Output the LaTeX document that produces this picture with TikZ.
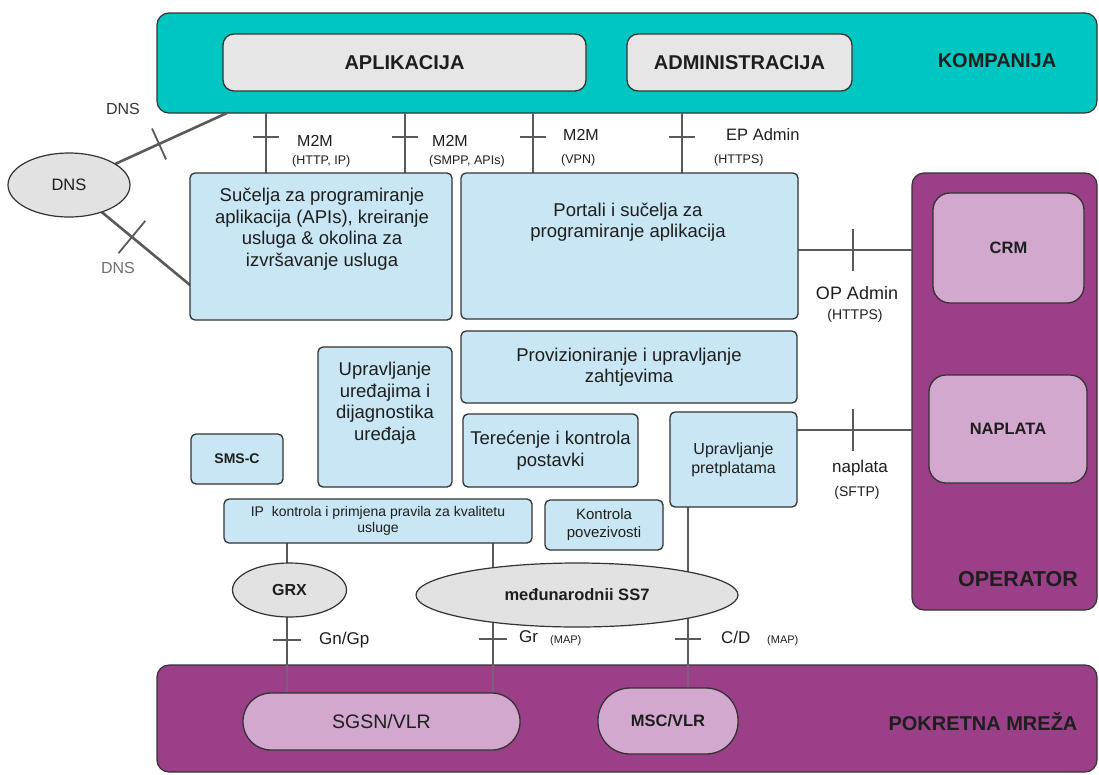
\documentclass[tikz,border=0pt]{standalone}
\usepackage{fontspec}
\setmainfont{Liberation Sans}
\usetikzlibrary{calc,shapes.geometric}
\pgfdeclarelayer{bg}
\pgfdeclarelayer{panels}
\pgfdeclarelayer{wires}
\pgfsetlayers{bg,panels,wires,main}
\definecolor{tealc}{HTML}{00C6C1}
\definecolor{purp}{HTML}{9B3F88}
\definecolor{lila}{HTML}{D2A8CE}
\definecolor{boxblue}{HTML}{C8E6F3}
\definecolor{boxgrey}{HTML}{E6E6E6}
\definecolor{ovalgrey}{HTML}{E2E2E2}
\definecolor{edge}{HTML}{333333}
\definecolor{wirec}{HTML}{5A5A5A}
\definecolor{wireband}{HTML}{7E5C7A}
\definecolor{ink}{HTML}{1E1E1E}
\definecolor{inkgrey}{HTML}{707070}
\newcommand{\fsz}[2]{\fontsize{#1}{#2}\selectfont}
\begin{document}
\begin{tikzpicture}[x=1pt,y=-1pt,
  every node/.style={text=ink},
  panel/.style={draw=edge, line width=1.2pt, rounded corners=12pt, inner sep=0pt, outer sep=0pt, anchor=north west},
  sbox/.style={draw=edge, line width=1.3pt, rounded corners=5pt, inner sep=1pt, outer sep=0pt, anchor=north west, align=center},
  bluebox/.style={sbox, fill=boxblue, font=\fsz{18.5}{21.5}},
  greybox/.style={sbox, fill=boxgrey, rounded corners=11pt, font=\bfseries\fsz{20}{24}},
  lilabox/.style={sbox, fill=lila, rounded corners=17pt, font=\bfseries\fsz{16.5}{20}},
  pill/.style={sbox, fill=lila},
  oval/.style={ellipse, draw=edge, line width=1.2pt, fill=ovalgrey, inner sep=0pt, outer sep=0pt},
  boxtxt/.style={align=center, inner sep=0pt, font=\fsz{18.5}{21.5}},
  headtxt/.style={inner sep=0pt, font=\bfseries\fsz{20}{24}},
  wire/.style={draw=wirec, line width=2.6pt},
  wireb/.style={draw=wireband, line width=2.6pt},
  tickl/.style={draw=wirec, line width=1.8pt},
  lbl/.style={inner sep=0pt, anchor=west},
]
\useasboundingbox (0,0) rectangle (1099,774);
\begin{pgfonlayer}{bg}
\fill[white] (0,0) rectangle (1099,774);
\end{pgfonlayer}

% ---------- panels ----------
\begin{pgfonlayer}{panels}
\node[panel, fill=tealc, minimum width=940pt, minimum height=100pt] (kompanija) at (157,13) {};
\node[panel, fill=purp, minimum width=185pt, minimum height=437pt] (operator) at (912,173) {};
\node[panel, fill=purp, minimum width=940pt, minimum height=107pt] (mreza) at (157,665) {};
\end{pgfonlayer}

% ---------- company ----------
\node[greybox, minimum width=363pt, minimum height=57pt] (apl) at (223,34) {APLIKACIJA};
\node[greybox, minimum width=225pt, minimum height=57pt] (adm) at (627,34) {ADMINISTRACIJA};
\node[headtxt] (kompt) at (997,61) {KOMPANIJA};

% ---------- operator ----------
\node[lilabox, minimum width=151pt, minimum height=110pt] (crm) at (933,193) {CRM};
\node[lilabox, minimum width=158pt, minimum height=108pt] (naplata) at (929,375) {NAPLATA};
\node[headtxt, font=\bfseries\fsz{21.5}{25}] (opt) at (1018,579) {OPERATOR};

% ---------- mobile network ----------
\node[pill, rounded corners=28pt, minimum width=277pt, minimum height=57pt, font=\fsz{19.5}{23}] (sgsn) at (243,693) {SGSN/VLR};
\node[pill, rounded corners=32pt, minimum width=140pt, minimum height=66pt, font=\bfseries\fsz{16.5}{20}] (msc) at (598,688) {MSC/VLR};
\node[headtxt] (mrezat) at (983,722) {POKRETNA MREŽA};

% ---------- platform boxes ----------
\node[bluebox, minimum width=262pt, minimum height=147pt] (api) at (190,173) {};
\node[boxtxt] (apitxt) at (322,229) {Sučelja za programiranje\\aplikacija (APIs), kreiranje\\usluga \& okolina za\\izvršavanje usluga};
\node[bluebox, minimum width=337pt, minimum height=146pt] (portali) at (461,173) {};
\node[boxtxt] (portalitxt) at (628,222) {Portali i sučelja za\\programiranje aplikacija};
\node[bluebox, minimum width=336pt, minimum height=72pt] (prov) at (461,331) {Provizioniranje i upravljanje\\zahtjevima};
\node[bluebox, minimum width=134pt, minimum height=140pt] (uredjaji) at (318,347) {};
\node[boxtxt] (uredjajitxt) at (385,403) {Upravljanje\\uređajima i\\dijagnostika\\uređaja};
\node[bluebox, minimum width=92pt, minimum height=50pt, font=\bfseries\fsz{14}{17}] (smsc) at (191,434) {SMS-C};
\node[bluebox, minimum width=175pt, minimum height=73pt] (terecenje) at (463,414) {Terećenje i kontrola\\postavki};
\node[bluebox, minimum width=308pt, minimum height=44pt, font=\fsz{14}{16.5}] (ipk) at (224,499) {IP\ \ kontrola i primjena pravila za kvalitetu\\usluge};
\node[bluebox, minimum width=118pt, minimum height=50pt, font=\fsz{15}{18}] (kpov) at (545,500) {Kontrola\\povezivosti};
\node[bluebox, minimum width=127pt, minimum height=95pt, font=\fsz{16}{19}] (pretplate) at (670,412) {Upravljanje\\pretplatama};

% ---------- clouds ----------
\node[oval, minimum width=122pt, minimum height=64pt, font=\fsz{16.5}{20}] (dns) at (69,185) {DNS};
\node[oval, minimum width=114pt, minimum height=54pt, font=\bfseries\fsz{16}{19}] (grx) at (289.5,590) {GRX};
\node[oval, minimum width=322pt, minimum height=64pt, font=\bfseries\fsz{16.5}{20}] (ss7) at (577,595) {međunarodnii SS7};

% ---------- connectors ----------
\coordinate (dnsk) at (227,113);
\coordinate (dnsa) at ($(api.north west)!0.762!(api.south west)$);
\coordinate (m1) at (266,0);
\coordinate (m2) at (405,0);
\coordinate (m3) at (533,0);
\coordinate (m4) at (682,0);
\coordinate (opy) at (0,250);
\coordinate (npy) at (0,430);
\coordinate (gx) at (287,0);
\coordinate (rx) at (493,0);
\coordinate (cx) at (688,0);
\begin{pgfonlayer}{wires}
\draw[wire] (dns) -- (dnsk);
\draw[wire] (dns) -- (dnsa);
\draw[wire] (kompanija.south -| m1) -- (api.north -| m1);
\draw[wire] (kompanija.south -| m2) -- (api.north -| m2);
\draw[wire] (kompanija.south -| m3) -- (portali.north -| m3);
\draw[wire] (kompanija.south -| m4) -- (portali.north -| m4);
\draw[wire] (portali.east |- opy) -- (operator.west |- opy);
\draw[wire] (pretplate.east |- npy) -- (operator.west |- npy);
\draw[wire] (ipk.south -| gx) -- (mreza.north -| gx);
\draw[wireb] (mreza.north -| gx) -- (sgsn.north -| gx);
\draw[wire] (ipk.south -| rx) -- (mreza.north -| rx);
\draw[wireb] (mreza.north -| rx) -- (sgsn.north -| rx);
\draw[wire] (pretplate.south -| cx) -- (mreza.north -| cx);
\draw[wireb] (mreza.north -| cx) -- (msc.north -| cx);
\end{pgfonlayer}

% ---------- ticks ----------
\coordinate (t1) at ($(dns)!0.57!(dnsk)$);
\draw[tickl] ($(t1)!17pt!90:(dnsk)$) -- ($(t1)!17pt!-90:(dnsk)$);
\coordinate (t2) at ($(dns)!0.52!(dnsa)$);
\draw[tickl] ($(t2)!21pt!90:(dnsa)$) -- ($(t2)!21pt!-90:(dnsa)$);
\draw[tickl] (253,137) -- (279,137);
\draw[tickl] (392,137) -- (418,137);
\draw[tickl] (520,137) -- (546,137);
\draw[tickl] (669,137) -- (695,137);
\draw[tickl] (853,229) -- (853,271);
\draw[tickl] (853,409) -- (853,451);
\draw[tickl] (273,640) -- (301,640);
\draw[tickl] (479,639) -- (507,639);
\draw[tickl] (675,639) -- (701,639);

% ---------- labels ----------
\node[inner sep=0pt, font=\fsz{16}{19}, text=edge] (ldns1) at (123,109) {DNS};
\node[inner sep=0pt, font=\fsz{16}{19}, text=inkgrey] (ldns2) at (118,268) {DNS};
\node[lbl, font=\fsz{16}{19}] (lm1) at (297,141) {M2M};
\node[lbl, font=\fsz{12.5}{15}] (lp1) at (292,161) {(HTTP, IP)};
\node[lbl, font=\fsz{16}{19}] (lm2) at (432,141) {M2M};
\node[lbl, font=\fsz{12.5}{15}] (lp2) at (429,161) {(SMPP, APIs)};
\node[lbl, font=\fsz{16}{19}] (lm3) at (563,135) {M2M};
\node[lbl, font=\fsz{12.5}{15}] (lp3) at (561,160) {(VPN)};
\node[lbl, font=\fsz{16.5}{19}] (lm4) at (726,135) {EP Admin};
\node[lbl, font=\fsz{12.5}{15}] (lp4) at (714,160) {(HTTPS)};
\node[inner sep=0pt, font=\fsz{18}{21}] (lop) at (857,293) {OP Admin};
\node[inner sep=0pt, font=\fsz{14}{17}] (lopp) at (855,316) {(HTTPS)};
\node[inner sep=0pt, font=\fsz{17}{20}] (lnap) at (860,468) {naplata};
\node[inner sep=0pt, font=\fsz{14}{17}] (lnapp) at (857,493) {(SFTP)};
\node[lbl, font=\fsz{17}{20}] (lgn) at (319,640) {Gn/Gp};
\node[lbl, font=\fsz{17}{20}] (lgr) at (519,637) {Gr};
\node[lbl, font=\fsz{11}{13}] (lgrm) at (550,641) {(MAP)};
\node[lbl, font=\fsz{17}{20}] (lcd) at (721,637) {C/D};
\node[lbl, font=\fsz{11}{13}] (lcdm) at (767,641) {(MAP)};
\end{tikzpicture}
\end{document}
